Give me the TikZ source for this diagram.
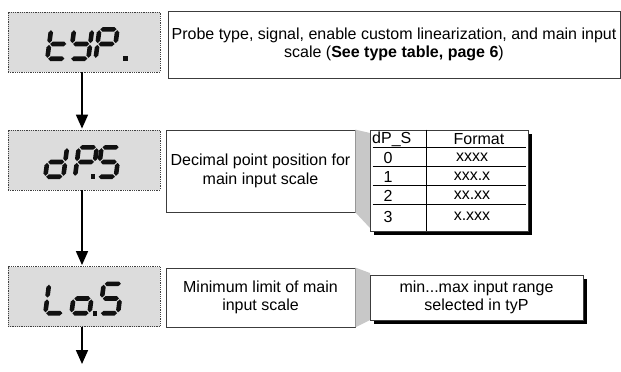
\documentclass[tikz,border=0pt]{standalone}
\usepackage{fontspec}
\setmainfont{Liberation Sans}
\usetikzlibrary{arrows.meta,shadows,calc}
\definecolor{dispfill}{RGB}{220,220,220}
\definecolor{callgray}{RGB}{200,200,200}
\definecolor{segblack}{RGB}{17,17,17}
\definecolor{edgegray}{RGB}{60,60,60}

\newcommand\sgh{2.3}
\newcommand\hsg[3]{\fill[segblack] (#1,#3) -- ({#1+\sgh},{#3+\sgh}) -- ({#2-\sgh},{#3+\sgh}) -- (#2,#3) -- ({#2-\sgh},{#3-\sgh}) -- ({#1+\sgh},{#3-\sgh}) -- cycle;}
\newcommand\vsg[3]{\fill[segblack] (#1,#2) -- ({#1+\sgh},{#2+\sgh}) -- ({#1+\sgh},{#3-\sgh}) -- (#1,#3) -- ({#1-\sgh},{#3-\sgh}) -- ({#1-\sgh},{#2+\sgh}) -- cycle;}
\newcommand\segA{\hsg{0.9}{17.1}{29.4}}
\newcommand\segB{\vsg{18}{15.6}{28.5}}
\newcommand\segC{\vsg{18}{0.9}{13.8}}
\newcommand\segD{\hsg{0.9}{17.1}{0}}
\newcommand\segE{\vsg{0}{0.9}{13.8}}
\newcommand\segF{\vsg{0}{15.6}{28.5}}
\newcommand\segG{\hsg{0.9}{17.1}{14.7}}
\newcommand\lcd[3]{\begin{scope}[shift={(#1,#2)},x=1pt,y=1pt,xslant=0.13]#3\end{scope}}
\newcommand\lcddot[2]{\fill[segblack] ({#1-2.1},{#2-2.3}) rectangle ({#1+2.1},{#2+2.3});}

\tikzset{
  disp/.style={draw=black!75, densely dotted, line width=0.8pt, fill=dispfill,
    minimum width=152pt, minimum height=60pt, inner sep=0pt},
  tbox/.style={draw=edgegray, line width=0.8pt, fill=white, align=center,
    font=\fontsize{16}{18.5}\selectfont, inner sep=0pt},
  lightshadow/.style={drop shadow={shadow xshift=1.3pt, shadow yshift=-1.3pt, fill=gray, opacity=1}},
  darkshadow/.style={drop shadow={shadow xshift=3.5pt, shadow yshift=-3.5pt, fill=black, opacity=1}},
  tabtext/.style={font=\fontsize{16}{18}\selectfont, inner sep=0pt},
  rule/.style={line width=0.7pt, draw=black},
  arr/.style={line width=1.7pt, -{Triangle[length=14pt,width=12pt]}},
  callout/.style={fill=callgray}
}

\begin{document}
\begin{tikzpicture}[x=1pt,y=-1pt]
\useasboundingbox (0,0) rectangle (621,372);

% display boxes
\node[disp] (d1) at (84,42) {};
\node[disp] (d2) at (84,160) {};
\node[disp] (d3) at (84,296.5) {};

% seven-segment glyphs: tYP.
\lcd{47.3}{58.7}{\segF\segE\segG\segD}
\lcd{70.3}{58.7}{\segF\segB\segG\segC\segD}
\lcd{95.6}{58.7}{\segA\segB\segF\segG\segE}
\lcddot{125.5}{58.7}
% dP.S
\lcd{45.3}{176.7}{\segB\segC\segD\segE\segG}
\lcd{75}{176.7}{\segA\segB\segF\segG\segE}
\lcddot{93}{176.7}
\lcd{97.8}{176.7}{\segA\segF\segG\segC\segD}
% Lo.S
\lcd{45.3}{313.2}{\segF\segE\segD}
\lcd{71.5}{313.2}{\segC\segD\segE\segG}
\lcddot{95}{313.2}
\lcd{100}{313.2}{\segA\segF\segG\segC\segD}

% arrows
\coordinate (endpt) at (82,364);
\draw[arr] ([xshift=-2pt]d1.south) -- ([xshift=-2pt,yshift=1pt]d2.north);
\draw[arr] ([xshift=-2pt]d2.south) -- ([xshift=-2pt,yshift=1pt]d3.north);
\draw[arr] ([xshift=-2pt]d3.south) -- (endpt);

% text boxes
\node[tbox, lightshadow, minimum width=452pt, minimum height=67pt] (t1) at (394,44.5)
  {Probe type, signal, enable custom linearization, and main input\\scale (\textbf{See type table, page 6})};
\node[tbox, lightshadow, minimum width=189pt, minimum height=82pt] (t2) at (260.5,171)
  {Decimal point position for\\main input scale};
\node[tbox, lightshadow, minimum width=189pt, minimum height=59pt] (t3) at (260.5,297.5)
  {Minimum limit of main\\input scale};

% positions of table and second callout box
\path (449,180.5) coordinate (tabc);
\path (476.5,297.5) coordinate (t4c);

% callout wedges
\fill[callout] (t2.north east) -- (370,133) -- (370,228) -- (t2.south east) -- cycle;
\fill[callout] (t3.north east) -- (370,273) -- (370,320) -- (t3.south east) -- cycle;

% table
\node[tbox, darkshadow, minimum width=158pt, minimum height=101pt] (tab) at (tabc) {};
\draw[rule] ($(tab.north west)+(57,0)$) -- ($(tab.south west)+(57,0)$);
\draw[rule] ($(tab.north west)+(3,18)$) -- ++(153,0);
\draw[rule] ($(tab.north west)+(3,37)$) -- ++(153,0);
\draw[rule] ($(tab.north west)+(3,56)$) -- ++(153,0);
\draw[rule] ($(tab.north west)+(3,75)$) -- ++(153,0);
\node[tabtext, anchor=west] (h1) at (372,139) {dP\_S};
\node[tabtext] (h2) at (479,139) {Format};
\node[tabtext] (r0a) at (388,157.5) {0};
\node[tabtext] (r0b) at (472,157.5) {xxxx};
\node[tabtext] (r1a) at (388,176.5) {1};
\node[tabtext] (r1b) at (472,176.5) {xxx.x};
\node[tabtext] (r2a) at (388,195.5) {2};
\node[tabtext] (r2b) at (472,195.5) {xx.xx};
\node[tabtext] (r3a) at (388,216.5) {3};
\node[tabtext] (r3b) at (472,216.5) {x.xxx};

\node[tbox, darkshadow, minimum width=213pt, minimum height=45pt] (t4) at (t4c)
  {min...max input range\\selected in tyP};
\end{tikzpicture}
\end{document}
